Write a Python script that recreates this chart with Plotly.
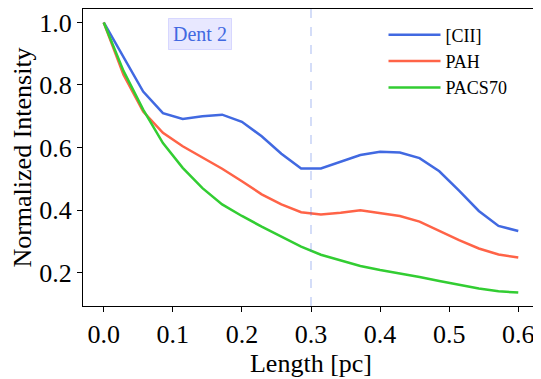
import plotly.graph_objects as go

length_pc = [0.0, 0.0286, 0.0571, 0.0857, 0.1143, 0.1429, 0.1714, 0.2, 0.2286, 0.2571, 0.2857,
             0.3143, 0.3429, 0.3714, 0.4, 0.4286, 0.4571, 0.4857, 0.5143, 0.5429, 0.5714, 0.6]
cii = [1.0, 0.89, 0.779, 0.710, 0.691, 0.700, 0.705, 0.682, 0.636, 0.580, 0.533,
       0.533, 0.554, 0.576, 0.586, 0.584, 0.566, 0.524, 0.462, 0.397, 0.349, 0.333]
pah = [1.0, 0.833, 0.715, 0.647, 0.604, 0.567, 0.532, 0.492, 0.450, 0.418, 0.393,
       0.386, 0.391, 0.399, 0.391, 0.381, 0.363, 0.333, 0.304, 0.277, 0.258, 0.248]
pacs70 = [1.0, 0.845, 0.721, 0.614, 0.535, 0.470, 0.418, 0.381, 0.347, 0.315, 0.283,
          0.257, 0.239, 0.221, 0.208, 0.198, 0.186, 0.173, 0.160, 0.149, 0.140, 0.136]
dent_x = 0.3

FONT = "Liberation Serif"

fig = go.Figure()
for name, ys, color in [("[CII]", cii, "#4169E1"), ("PAH", pah, "#FF6347"), ("PACS70", pacs70, "#32CD32")]:
    fig.add_trace(go.Scatter(x=length_pc, y=ys, name=name, mode="lines",
                             line=dict(color=color, width=2.5)))

fig.add_vline(x=dent_x, line=dict(color="rgba(65,105,225,0.3)", width=1.5, dash="dash"))
fig.add_annotation(x=0.14, y=0.963, text="Dent 2", showarrow=False,
                   font=dict(family=FONT, size=20, color="#4169E1"),
                   bgcolor="rgba(204,204,255,0.45)", bordercolor="rgba(150,150,255,0.3)",
                   borderwidth=1, borderpad=4)

axis = dict(showline=True, linecolor="black", linewidth=1.2, mirror=True, ticks="outside",
            ticklen=5, tickcolor="black", showgrid=False, zeroline=False, automargin=False,
            tickfont=dict(family=FONT, size=26, color="black"))
fig.update_xaxes(range=[-0.03, 0.63], tickvals=[0, 0.1, 0.2, 0.3, 0.4, 0.5, 0.6],
                 tickformat=".1f", title=dict(text="Length [pc]", font=dict(family=FONT, size=26), standoff=0),
                 **axis)
fig.update_yaxes(range=[0.093, 1.043], tickvals=[0.2, 0.4, 0.6, 0.8, 1.0],
                 tickformat=".1f", title=dict(text="Normalized Intensity", font=dict(family=FONT, size=26), standoff=6),
                 **axis)
# the page body has an 8px margin, so the figure is shifted and sized to fit
fig.update_layout(
    width=533, height=371,
    margin=dict(l=75, r=2, t=1, b=73),
    plot_bgcolor="white", paper_bgcolor="white",
    font=dict(family=FONT, color="black"),
    legend=dict(x=0.659, y=0.975, xanchor="left", yanchor="top", bgcolor="rgba(0,0,0,0)",
                font=dict(family=FONT, size=18), itemwidth=52),
)
fig.write_html("out.html")
